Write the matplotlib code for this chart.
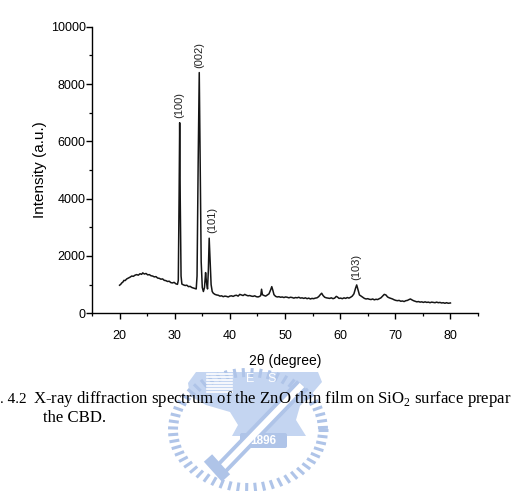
import matplotlib
matplotlib.use("Agg")
import matplotlib.pyplot as plt
from matplotlib.patches import Polygon, FancyBboxPatch
from matplotlib.ticker import MultipleLocator
import numpy as np

plt.rcParams['font.family'] = ['Liberation Sans', 'DejaVu Sans']
plt.rcParams['mathtext.fontset'] = 'custom'
plt.rcParams['mathtext.rm'] = 'Liberation Serif'

# XRD spectrum: 2theta (degree) and intensity (a.u.)
two_theta = [20.0, 20.2, 20.4, 20.6, 20.8, 21.0, 21.3, 21.6, 21.9, 22.2, 22.5, 22.8, 23.1, 23.4, 23.7,
             24.0, 24.2, 24.5, 24.8, 25.1, 25.4, 25.7, 26.0, 26.3, 26.6, 26.9, 27.2, 27.5, 27.8, 28.1,
             28.4, 28.7, 29.0, 29.3, 29.6, 29.9, 30.2, 30.5, 30.65, 30.8, 30.9, 31.0, 31.15, 31.3, 31.6,
             31.9, 32.2, 32.5, 32.8, 33.1, 33.4, 33.7, 33.9, 34.05, 34.25, 34.45, 34.6, 34.8, 35.0, 35.2,
             35.4, 35.6, 35.75, 35.95, 36.1, 36.25, 36.4, 36.6, 36.8, 37.0, 37.3, 37.6, 37.9, 38.2, 38.5,
             38.8, 39.1, 39.4, 39.7, 40.0, 40.3, 40.6, 40.9, 41.2, 41.5, 41.8, 42.1, 42.4, 42.7, 43.0,
             43.3, 43.6, 43.9, 44.2, 44.5, 44.8, 45.1, 45.4, 45.6, 45.75, 45.9, 46.2, 46.5, 46.8, 47.1,
             47.4, 47.6, 47.8, 48.0, 48.3, 48.6, 48.9, 49.2, 49.5, 49.8, 50.1, 50.4, 50.7, 51.0, 51.3,
             51.6, 51.9, 52.2, 52.5, 52.8, 53.1, 53.4, 53.7, 54.0, 54.3, 54.6, 54.9, 55.2, 55.5, 55.8,
             56.1, 56.4, 56.65, 56.9, 57.2, 57.5, 57.8, 58.1, 58.4, 58.7, 59.0, 59.3, 59.5, 59.8, 60.1,
             60.4, 60.7, 61.0, 61.3, 61.6, 61.9, 62.2, 62.5, 62.8, 63.0, 63.2, 63.5, 63.8, 64.1, 64.4,
             64.7, 65.0, 65.3, 65.6, 65.9, 66.2, 66.5, 66.8, 67.1, 67.4, 67.7, 68.0, 68.3, 68.6, 68.9,
             69.2, 69.5, 69.8, 70.1, 70.4, 70.7, 71.0, 71.3, 71.6, 71.9, 72.2, 72.5, 72.75, 73.0, 73.3,
             73.6, 73.9, 74.2, 74.5, 74.8, 75.1, 75.4, 75.7, 76.0, 76.3, 76.6, 76.9, 77.2, 77.5, 77.8,
             78.1, 78.4, 78.7, 79.0, 79.3, 79.6, 80.0]
intensity = [980, 1010, 1060, 1090, 1150, 1140, 1200, 1230, 1260, 1300, 1290, 1330, 1350, 1330, 1380,
             1360, 1410, 1370, 1390, 1340, 1350, 1310, 1300, 1270, 1280, 1230, 1220, 1190, 1200, 1150,
             1140, 1110, 1120, 1070, 1060, 1080, 1030, 1010, 1150, 4200, 6650, 4000, 1300, 1020, 990,
             970, 980, 930, 940, 900, 880, 860, 850, 1300, 5200, 8400, 5400, 1800, 900, 760,
             900, 1420, 1100, 850, 1500, 2620, 1900, 1000, 760, 700, 660, 640, 630, 600, 610,
             580, 600, 590, 570, 600, 610, 590, 620, 630, 600, 660, 640, 620, 660, 630,
             610, 620, 600, 590, 610, 580, 570, 590, 620, 840, 650, 620, 600, 640, 680,
             820, 930, 800, 650, 590, 570, 580, 560, 570, 550, 570, 560, 540, 560, 550,
             530, 550, 540, 560, 530, 540, 520, 540, 510, 530, 500, 520, 510, 530, 540,
             580, 650, 700, 620, 560, 540, 530, 520, 540, 510, 530, 590, 570, 520, 530,
             510, 540, 520, 550, 530, 560, 600, 680, 880, 990, 850, 640, 600, 560, 520,
             500, 510, 490, 480, 500, 470, 490, 480, 510, 540, 600, 660, 640, 570, 540,
             520, 500, 470, 450, 440, 450, 420, 430, 410, 440, 450, 480, 500, 470, 440,
             420, 400, 410, 390, 400, 380, 400, 380, 390, 370, 390, 380, 370, 390, 370,
             380, 360, 370, 350, 370, 350, 360]

peak_labels = ["(100)", "(002)", "(101)", "(103)"]
peak_pos = [30.9, 34.45, 36.25, 63.0]
peak_shift = [0, 0, 3, 0]   # small sideways nudge of the label, pixels

# caption as it shows on the scanned page (cut by the page edges)
caption_num = ". 4.2"
caption1 = "X-ray diffraction spectrum of the ZnO thin film on SiO$_2$ surface prepar"
caption2 = "the CBD."

W, H = 514, 491
fig = plt.figure(figsize=(W / 100, H / 100), dpi=100)

# --- faint school emblem behind the caption (decoration) ---
wm = fig.add_axes([0, 0, 1, 1], zorder=-1)
wm.set_xlim(0, W)
wm.set_ylim(H, 0)
wm.axis('off')
blue = '#afc4e8'
light = '#c4d5f1'
cx, cy, rx, ry = 248, 430, 70, 53
for a in np.arange(0, 360, 6.5):
    t = np.deg2rad(a)
    wm.plot([cx + rx * np.cos(t), cx + (rx + 10) * np.cos(t)],
            [cy + ry * np.sin(t), cy + (ry + 9) * np.sin(t)],
            color=blue, lw=2.2, solid_capstyle='butt')
anvil = Polygon([(196, 372), (318, 372), (322, 382), (310, 396), (300, 406), (296, 420),
                 (306, 436), (232, 436), (238, 425), (230, 412), (206, 405), (190, 396),
                 (188, 383)],
                closed=True, facecolor=light, edgecolor='none')
wm.add_patch(anvil)
wm.plot([218, 302], [472, 385], color=blue, lw=10, solid_capstyle='butt')
wm.plot([218, 302], [472, 385], color='white', lw=4.5, solid_capstyle='butt')
wm.plot([208, 226], [458, 478], color=blue, lw=8, solid_capstyle='butt')
for yy in range(374, 393, 3):
    wm.plot([207, 232], [yy, yy], color='white', lw=1.2)
wm.text(250, 379, "E", color='white', fontsize=9, ha='center', va='center')
wm.text(272, 379, "S", color='white', fontsize=9, ha='center', va='center')
box = FancyBboxPatch((240, 433), 47, 15, boxstyle="round,pad=0,rounding_size=2",
                     facecolor=blue, edgecolor='none')
wm.add_patch(box)
wm.text(263.5, 440.5, "1896", color='white', fontsize=8.5, ha='center', va='center',
        fontweight='bold')

# --- the XRD chart ---
ax = fig.add_axes([92 / W, 1 - 313.3 / H, 386 / W, 286.6 / H])
ax.patch.set_alpha(0)
ax.plot(two_theta, intensity, color='#151515', lw=1.1)

for lab, pos, dx in zip(peak_labels, peak_pos, peak_shift):
    top = np.interp(pos, two_theta, intensity)
    ax.annotate(lab, xy=(pos, top), xytext=(dx, 5), textcoords='offset pixels',
                rotation=90, ha='center', va='bottom', fontsize=8, color='#222222')

ax.set_xlim(15, 85)
ax.set_ylim(0, 10000)
ax.xaxis.set_minor_locator(MultipleLocator(5))
ax.yaxis.set_major_locator(MultipleLocator(2000))
ax.yaxis.set_minor_locator(MultipleLocator(1000))
ax.set_xticks([20, 30, 40, 50, 60, 70, 80])
for s in ['top', 'right']:
    ax.spines[s].set_visible(False)
for s in ['left', 'bottom']:
    ax.spines[s].set_linewidth(1.0)
ax.tick_params(which='major', direction='out', length=4, width=1.0, labelsize=9)
ax.tick_params(which='minor', direction='out', length=2.5, width=0.9)
ax.tick_params(axis='x', pad=8)
ax.tick_params(axis='y', pad=0.5)
ax.set_xlabel("2\u03b8 (degree)", fontsize=10, labelpad=9)
ax.set_ylabel("Intensity (a.u.)", fontsize=11, labelpad=3)

# --- caption ---
fig.text(0.5 / W, 1 - 403 / H, caption_num, family='Liberation Serif', fontsize=11,
         ha='left', va='baseline')
fig.text(33 / W, 1 - 403 / H, caption1, family='Liberation Serif', fontsize=12.1,
         ha='left', va='baseline')
fig.text(43 / W, 1 - 422 / H, caption2, family='Liberation Serif', fontsize=12.1,
         ha='left', va='baseline')

fig.savefig("out.png", dpi=100)
